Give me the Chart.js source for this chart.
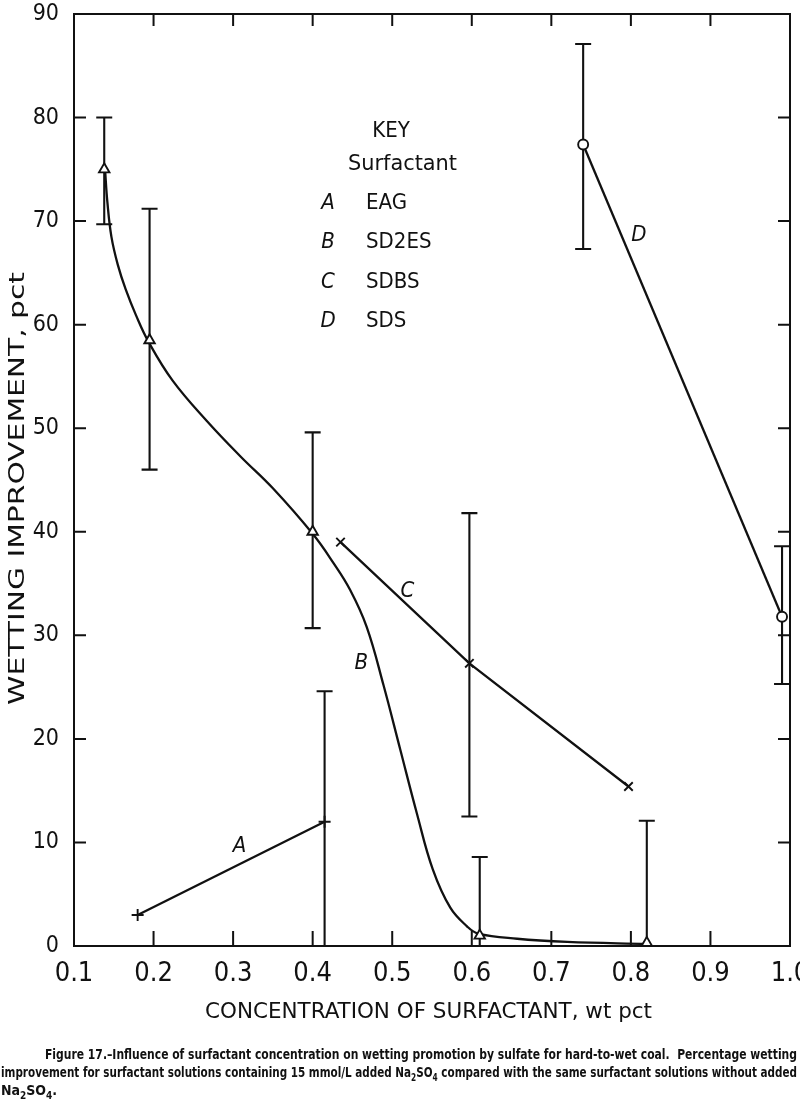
<!DOCTYPE html>
<html lang="en">
<head>
  <meta charset="UTF-8">
  <title>Figure 17 - Wetting improvement vs surfactant concentration</title>
  <script src="https://cdn.jsdelivr.net/npm/chart.js"></script>
  <style>
    body { margin: 0; background: #fff; }
    canvas { display: block; }
  </style>
</head>
<body>
<canvas id="grafico" width="800" height="1111"></canvas>

<script>
// A - EAG (+)
const concA = [0.18, 0.415];
const mejoraA = [3, 12];
const bajoA = [null, 0];
const altoA = [null, 24.6];

// B - SD2ES (triangles)
const concB = [0.138, 0.195, 0.40, 0.61, 0.82];
const mejoraB = [75, 58.5, 40, 1, 0.3];
const bajoB = [69.7, 46, 30.7, 0, 0];
const altoB = [80, 71.2, 49.6, 8.6, 12.1];

// B - hand-drawn curve
const curvaConcB = [0.139, 0.142, 0.147, 0.155, 0.165, 0.178, 0.194, 0.224, 0.267, 0.309, 0.350, 0.400,
  0.426, 0.447, 0.468, 0.489, 0.510, 0.531, 0.551, 0.573, 0.594, 0.608, 0.657, 0.72, 0.82];
const curvaMejoraB = [75, 71.8, 68.5, 65.8, 63.4, 60.9, 58.3, 54.6, 50.7, 47.3, 44.2, 39.8,
  37.0, 34.4, 30.8, 25.2, 19.0, 12.8, 7.4, 3.7, 1.9, 1.2, 0.7, 0.4, 0.2];

// C - SDBS (x)
const concC = [0.435, 0.597, 0.797];
const mejoraC = [39, 27.3, 15.4];
const bajoC = [null, 12.5, null];
const altoC = [null, 41.8, null];

// D - SDS (circles)
const concD = [0.74, 0.99];
const mejoraD = [77.4, 31.8];
const bajoD = [67.3, 25.3];
const altoD = [87.1, 38.6];

const ticksX = [0.1, 0.2, 0.3, 0.4, 0.5, 0.6, 0.7, 0.8, 0.9, 1.0];
const ticksY = [0, 10, 20, 30, 40, 50, 60, 70, 80, 90];

const letrasClave = ['A', 'B', 'C', 'D'];
const nombresClave = ['EAG', 'SD2ES', 'SDBS', 'SDS'];

const TINTA = '#111';
const FUENTE = '"DejaVu Sans Condensed", "DejaVu Sans", sans-serif';

function puntos(xs, ys) {
  return xs.map((x, i) => ({ x: x, y: ys[i] }));
}

function serie(xs, ys, bajo, alto, estilo, extra) {
  return Object.assign({
    data: puntos(xs, ys),
    errBajo: bajo,
    errAlto: alto,
    showLine: true,
    fill: false,
    borderColor: TINTA,
    borderWidth: 2.3,
    pointStyle: estilo,
    pointRadius: 6,
    pointBackgroundColor: '#fff',
    pointBorderColor: TINTA,
    pointBorderWidth: 1.9
  }, extra || {});
}

// error bars, drawn under the markers
const barrasError = {
  id: 'barrasError',
  beforeDatasetsDraw(chart) {
    const ctx = chart.ctx;
    const sx = chart.scales.x, sy = chart.scales.y;
    ctx.save();
    ctx.strokeStyle = TINTA;
    ctx.lineWidth = 2.1;
    chart.data.datasets.forEach(ds => {
      if (!ds.errBajo) return;
      ds.data.forEach((p, i) => {
        const lo = ds.errBajo[i], hi = ds.errAlto[i];
        if (lo == null || hi == null) return;
        const px = sx.getPixelForValue(p.x);
        const y1 = sy.getPixelForValue(lo), y2 = sy.getPixelForValue(hi);
        ctx.beginPath();
        ctx.moveTo(px, y1); ctx.lineTo(px, y2);
        ctx.moveTo(px - 8, y1); ctx.lineTo(px + 8, y1);
        ctx.moveTo(px - 8, y2); ctx.lineTo(px + 8, y2);
        ctx.stroke();
      });
    });
    ctx.restore();
  }
};

function textoAjustado(ctx, txt, x, y, ancho) {
  const w = ctx.measureText(txt).width;
  ctx.save();
  ctx.translate(x, y);
  ctx.scale(ancho / w, 1);
  ctx.fillText(txt, 0, 0);
  ctx.restore();
}

// line of text with subscripts, stretched to a given width
function lineaConSub(ctx, partes, x, y, ancho, tam) {
  const normal = 'bold ' + tam + 'px "Liberation Sans Narrow", "DejaVu Sans Condensed", sans-serif';
  const sub = 'bold ' + Math.round(tam * 0.7) + 'px "Liberation Sans Narrow", "DejaVu Sans Condensed", sans-serif';
  let total = 0;
  partes.forEach(p => { ctx.font = p[1] ? sub : normal; total += ctx.measureText(p[0]).width; });
  const k = ancho ? ancho / total : 1;
  ctx.save();
  ctx.translate(x, y);
  ctx.scale(k, 1);
  let cx = 0;
  partes.forEach(p => {
    ctx.font = p[1] ? sub : normal;
    ctx.fillText(p[0], cx, p[1] ? 4 : 0);
    cx += ctx.measureText(p[0]).width;
  });
  ctx.restore();
}

const marcoYTextos = {
  id: 'marcoYTextos',
  afterDraw(chart) {
    const ctx = chart.ctx;
    const a = chart.chartArea;
    const sx = chart.scales.x, sy = chart.scales.y;
    ctx.save();
    ctx.strokeStyle = TINTA;
    ctx.fillStyle = TINTA;
    ctx.lineWidth = 2;
    ctx.strokeRect(a.left, a.top, a.right - a.left, a.bottom - a.top);

    // inward ticks
    ctx.beginPath();
    ticksX.slice(1, -1).forEach(v => {
      const px = sx.getPixelForValue(v);
      ctx.moveTo(px, a.bottom); ctx.lineTo(px, a.bottom - 15);
      ctx.moveTo(px, a.top); ctx.lineTo(px, a.top + 12);
    });
    ticksY.slice(1, -1).forEach(v => {
      const py = sy.getPixelForValue(v);
      ctx.moveTo(a.left, py); ctx.lineTo(a.left + 12, py);
      ctx.moveTo(a.right, py); ctx.lineTo(a.right - 12, py);
    });
    ctx.stroke();

    // axis titles
    ctx.textAlign = 'left';
    ctx.textBaseline = 'middle';
    ctx.font = '21px ' + FUENTE;
    textoAjustado(ctx, 'CONCENTRATION OF SURFACTANT, wt pct', 205, 1013, 447);
    ctx.save();
    ctx.translate(19, 705);
    ctx.rotate(-Math.PI / 2);
    ctx.font = '21px ' + FUENTE;
    textoAjustado(ctx, 'WETTING IMPROVEMENT, pct', 0, 0, 433);
    ctx.restore();

    // key
    ctx.font = '22px ' + FUENTE;
    ctx.textAlign = 'center';
    ctx.fillText('KEY', 391, 131);
    ctx.textAlign = 'left';
    textoAjustado(ctx, 'Surfactant', 348, 164, 109);
    letrasClave.forEach((l, i) => {
      const y = 203 + i * 39.5;
      ctx.font = 'italic 22px ' + FUENTE;
      ctx.textAlign = 'center';
      ctx.fillText(l, 328, y);
      ctx.font = '22px ' + FUENTE;
      ctx.textAlign = 'left';
      ctx.fillText(nombresClave[i], 366, y);
    });

    // curve letters
    ctx.font = 'italic 22px ' + FUENTE;
    ctx.textAlign = 'center';
    const etiquetas = [['A', 0.308, 9.6], ['B', 0.461, 27.3], ['C', 0.519, 34.3], ['D', 0.81, 68.6]];
    etiquetas.forEach(e => ctx.fillText(e[0], sx.getPixelForValue(e[1]), sy.getPixelForValue(e[2])));

    // caption
    ctx.textAlign = 'left';
    ctx.textBaseline = 'alphabetic';
    lineaConSub(ctx, [['Figure 17.\u2013Influence of surfactant concentration on wetting promotion by sulfate for hard-to-wet coal.  Percentage wetting', false]], 45, 1059, 752, 14);
    lineaConSub(ctx, [['improvement for surfactant solutions containing 15 mmol/L added Na', false], ['2', true], ['SO', false], ['4', true],
      [' compared with the same surfactant solutions without added', false]], 1, 1077, 796, 14);
    lineaConSub(ctx, [['Na', false], ['2', true], ['SO', false], ['4', true], ['.', false]], 1, 1095, 0, 14);
    ctx.restore();
  }
};

new Chart(document.getElementById('grafico'), {
  type: 'scatter',
  data: {
    datasets: [
      serie(concA, mejoraA, bajoA, altoA, 'cross'),
      serie(concB, mejoraB, bajoB, altoB, 'triangle', { showLine: false }),
      serie(concC, mejoraC, bajoC, altoC, 'crossRot'),
      serie(concD, mejoraD, bajoD, altoD, 'circle', { pointRadius: 5 }),
      serie(curvaConcB, curvaMejoraB, null, null, 'circle', { pointRadius: 0, tension: 0.4 })
    ]
  },
  options: {
    responsive: false,
    animation: false,
    layout: { padding: { top: 14, right: 10, left: 0, bottom: 0 } },
    plugins: { legend: { display: false }, tooltip: { enabled: false } },
    scales: {
      x: {
        type: 'linear',
        min: 0.1,
        max: 1.0,
        grid: { display: false, drawTicks: false },
        border: { display: false },
        afterBuildTicks: s => { s.ticks = ticksX.map(v => ({ value: v })); },
        ticks: {
          autoSkip: false,
          maxRotation: 0,
          padding: 12,
          color: TINTA,
          font: { family: FUENTE, size: 27 },
          callback: v => Number(v).toFixed(1)
        },
        afterFit: s => { s.height = 165; s.paddingLeft = 0; s.paddingRight = 0; }
      },
      y: {
        min: 0,
        max: 90,
        grid: { display: false, drawTicks: false },
        border: { display: false },
        afterBuildTicks: s => { s.ticks = ticksY.map(v => ({ value: v })); },
        ticks: {
          padding: 15,
          color: TINTA,
          font: { family: FUENTE, size: 23 }
        },
        afterFit: s => { s.width = 74; s.paddingTop = 0; s.paddingBottom = 0; }
      }
    }
  },
  plugins: [barrasError, marcoYTextos]
});
</script>
</body>
</html>
